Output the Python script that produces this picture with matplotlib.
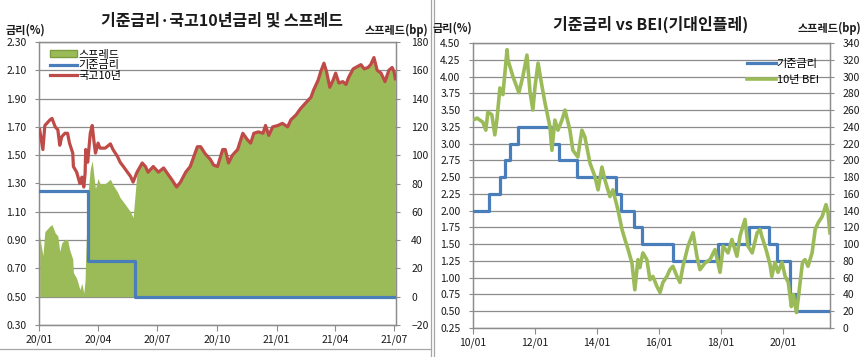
import matplotlib
matplotlib.use("Agg")
import matplotlib.pyplot as plt
import matplotlib.dates as mdates
import numpy as np
import pandas as pd
from matplotlib.patches import Patch
from matplotlib.lines import Line2D
from matplotlib.ticker import FormatStrFormatter

plt.rcParams['font.family'] = ['Noto Sans CJK KR', 'DejaVu Sans']

# ---------------- Left chart data ----------------
left_title = "기준금리·국고10년금리 및 스프레드"
kr10_dates = [
    "2020-01-02", "2020-01-07", "2020-01-10", "2020-01-18", "2020-01-21", "2020-01-26",
    "2020-01-30", "2020-02-02", "2020-02-05", "2020-02-10", "2020-02-14", "2020-02-17",
    "2020-02-22", "2020-02-23", "2020-02-28", "2020-03-04", "2020-03-07", "2020-03-10",
    "2020-03-12", "2020-03-13", "2020-03-16", "2020-03-20", "2020-03-23", "2020-03-26",
    "2020-03-28", "2020-04-01", "2020-04-04", "2020-04-12", "2020-04-20", "2020-04-24",
    "2020-05-01", "2020-05-05", "2020-05-10", "2020-05-21", "2020-05-25", "2020-05-31",
    "2020-06-08", "2020-06-13", "2020-06-17", "2020-06-25", "2020-07-03", "2020-07-11",
    "2020-07-17", "2020-07-24", "2020-07-31", "2020-08-06", "2020-08-14", "2020-08-21",
    "2020-09-01", "2020-09-06", "2020-09-13", "2020-09-21", "2020-09-26", "2020-10-02",
    "2020-10-10", "2020-10-14", "2020-10-19", "2020-10-25", "2020-11-02", "2020-11-10",
    "2020-11-17", "2020-11-22", "2020-11-27", "2020-12-04", "2020-12-11", "2020-12-15",
    "2020-12-20", "2020-12-26", "2021-01-03", "2021-01-10", "2021-01-18", "2021-01-23",
    "2021-01-31", "2021-02-07", "2021-02-15", "2021-02-23", "2021-02-27", "2021-03-06",
    "2021-03-10", "2021-03-15", "2021-03-19", "2021-03-24", "2021-03-29", "2021-04-02",
    "2021-04-07", "2021-04-13", "2021-04-18", "2021-04-22", "2021-04-29", "2021-05-03",
    "2021-05-11", "2021-05-16", "2021-05-22", "2021-05-26", "2021-05-31", "2021-06-05",
    "2021-06-11", "2021-06-17", "2021-06-23", "2021-06-28", "2021-07-01", "2021-07-03",
]
kr10_values = [
    1.68, 1.54, 1.71, 1.75, 1.76, 1.70,
    1.68, 1.57, 1.63, 1.655, 1.655, 1.585,
    1.515, 1.42, 1.38, 1.30, 1.345, 1.275,
    1.37, 1.54, 1.45, 1.655, 1.71, 1.585,
    1.515, 1.585, 1.55, 1.55, 1.58, 1.54,
    1.49, 1.45, 1.42, 1.35, 1.31, 1.38,
    1.445, 1.42, 1.38, 1.42, 1.38, 1.41,
    1.37, 1.325, 1.275, 1.31, 1.38, 1.42,
    1.56, 1.56, 1.51, 1.47, 1.43, 1.42,
    1.54, 1.54, 1.445, 1.50, 1.54, 1.655,
    1.61, 1.585, 1.655, 1.665, 1.655, 1.71,
    1.64, 1.70, 1.71, 1.725, 1.70, 1.75,
    1.785, 1.83, 1.87, 1.91, 1.96, 2.03,
    2.09, 2.15, 2.09, 1.98, 2.03, 2.08,
    2.01, 2.02, 2.00, 2.05, 2.11, 2.12,
    2.14, 2.11, 2.12, 2.14, 2.19, 2.10,
    2.08, 2.02, 2.10, 2.12, 2.09, 2.04,
]
base_l_dates = ["2020-01-01", "2020-03-16", "2020-05-28", "2021-07-04"]
base_l_values = [1.25, 0.75, 0.50, 0.50]
left_legend = ["스프레드", "기준금리", "국고10년"]

# ---------------- Right chart data ----------------
right_title = "기준금리 vs BEI(기대인플레)"
bei_dates = [
    "2010-01-04", "2010-02-17", "2010-04-26", "2010-06-01", "2010-06-25", "2010-08-11",
    "2010-09-15", "2010-10-09", "2010-11-14", "2010-12-19", "2011-02-06", "2011-02-16",
    "2011-04-16", "2011-06-25", "2011-08-11", "2011-09-28", "2011-11-03", "2011-12-07",
    "2012-01-01", "2012-02-06", "2012-03-10", "2012-04-27", "2012-06-25", "2012-07-18",
    "2012-08-22", "2012-09-27", "2012-11-13", "2012-12-19", "2013-02-15", "2013-03-22",
    "2013-05-19", "2013-07-06", "2013-08-10", "2013-10-09", "2013-12-06", "2014-01-12",
    "2014-02-27", "2014-04-03", "2014-06-01", "2014-07-06", "2014-09-04", "2014-10-21",
    "2014-11-25", "2015-01-01", "2015-02-15", "2015-03-21", "2015-04-27", "2015-05-19",
    "2015-06-24", "2015-08-10", "2015-09-15", "2015-10-20", "2015-12-06", "2016-01-12",
    "2016-02-15", "2016-04-02", "2016-05-07", "2016-06-12", "2016-07-29", "2016-09-03",
    "2016-10-08", "2016-12-06", "2017-02-04", "2017-03-21", "2017-04-26", "2017-06-25",
    "2017-08-22", "2017-10-20", "2017-12-18", "2018-01-24", "2018-03-22", "2018-05-07",
    "2018-07-05", "2018-08-10", "2018-10-08", "2018-11-13", "2019-01-01", "2019-02-28",
    "2019-04-03", "2019-04-26", "2019-06-13", "2019-07-29", "2019-08-20", "2019-09-26",
    "2019-11-01", "2019-12-18", "2020-01-24", "2020-03-01", "2020-04-06", "2020-04-30",
    "2020-06-05", "2020-06-29", "2020-08-15", "2020-09-14", "2020-10-19", "2020-12-06",
    "2021-01-12", "2021-02-16", "2021-04-03", "2021-05-19", "2021-06-12", "2021-07-04",
]
bei_values = [
    3.35, 3.38, 3.32, 3.20, 3.47, 3.43,
    3.13, 3.35, 3.83, 3.73, 4.40, 4.25,
    4.00, 3.76, 4.00, 4.32, 3.77, 3.50,
    3.85, 4.20, 3.95, 3.61, 3.25, 2.90,
    3.35, 3.20, 3.35, 3.50, 3.20, 2.90,
    2.80, 3.20, 3.10, 2.71, 2.51, 2.31,
    2.65, 2.46, 2.21, 2.31, 2.01, 1.72,
    1.57, 1.42, 1.22, 0.82, 1.27, 1.15,
    1.37, 1.27, 0.97, 1.02, 0.87, 0.78,
    0.93, 1.02, 1.12, 1.17, 1.02, 0.93,
    1.17, 1.47, 1.67, 1.32, 1.12, 1.22,
    1.27, 1.42, 1.08, 1.47, 1.37, 1.57,
    1.32, 1.62, 1.87, 1.47, 1.37, 1.67,
    1.72, 1.61, 1.42, 1.20, 1.02, 1.23,
    1.08, 1.23, 1.02, 0.93, 0.57, 0.75,
    0.48, 0.72, 1.23, 1.27, 1.17, 1.37,
    1.72, 1.82, 1.91, 2.09, 1.97, 1.67,
]
base_r_dates = [
    "2010-01-01", "2010-07-09", "2010-11-16", "2011-01-13", "2011-03-10", "2011-06-10",
    "2012-07-12", "2012-10-11", "2013-05-09", "2014-08-14", "2014-10-15", "2015-03-12",
    "2015-06-11", "2016-06-09", "2017-11-30", "2018-11-30", "2019-07-18", "2019-10-16",
    "2020-03-16", "2020-05-28", "2021-07-05",
]
base_r_values = [
    2.00, 2.25, 2.50, 2.75, 3.00, 3.25,
    3.00, 2.75, 2.50, 2.25, 2.00, 1.75,
    1.50, 1.25, 1.50, 1.75, 1.50, 1.25,
    0.75, 0.50, 0.50,
]
right_legend = ["기준금리", "10년 BEI"]

# ---------------- Styling ----------------
BLUE = '#4A7EBB'
RED = '#BE4B48'
GREEN = '#9BBB59'
GRID = '#8C8C8C'
TXT = '#1a1a1a'

W, H = 866, 357
fig = plt.figure(figsize=(W / 100, H / 100), dpi=100)
fig.patch.set_facecolor('white')


def rect(x0, y0, x1, y1):
    return [x0 / W, 1 - y1 / H, (x1 - x0) / W, (y1 - y0) / H]


def style_axes(ax):
    for s in ax.spines.values():
        s.set_color(GRID)
        s.set_linewidth(0.9)


# ---------------- Left chart ----------------
kr_dt = pd.to_datetime(kr10_dates)
kr_v = np.array(kr10_values)
bl_dt = pd.to_datetime(base_l_dates)
bl_v = np.array(base_l_values)
idx = np.searchsorted(bl_dt.values, kr_dt.values, side='right') - 1
spread_bp = (kr_v - bl_v[idx]) * 100.0

axL = fig.add_axes(rect(39, 42, 396, 325))
axL2 = axL.twinx()
axL.set_zorder(axL2.get_zorder() + 1)
axL.patch.set_visible(False)
axL2.patch.set_visible(True)
axL2.patch.set_facecolor('white')

axL2.set_ylim(-20, 180)
axL2.set_yticks(np.arange(-20, 181, 20))
axL2.set_axisbelow(True)
axL2.grid(axis='y', color=GRID, linewidth=0.9)
axL2.fill_between(kr_dt, 0, spread_bp, color=GREEN, linewidth=0, zorder=2)

axL.set_ylim(0.30, 2.30)
axL.set_yticks(np.arange(0.30, 2.31, 0.20))
axL.yaxis.set_major_formatter(FormatStrFormatter('%.2f'))
axL.step(bl_dt, bl_v, where='post', color=BLUE, linewidth=2.3, zorder=3)
axL.plot(kr_dt, kr_v, color=RED, linewidth=2.3, zorder=4)
axL.set_xlim(pd.Timestamp("2020-01-01"), pd.Timestamp("2021-07-04"))
axL.xaxis.set_major_locator(mdates.MonthLocator(bymonth=[1, 4, 7, 10]))
axL.xaxis.set_major_formatter(mdates.DateFormatter('%y/%m'))

for a in (axL, axL2):
    style_axes(a)
axL.tick_params(axis='x', length=4, color=GRID, labelsize=7.5, pad=3, labelcolor=TXT)
axL.tick_params(axis='y', length=3, color=GRID, labelsize=7.5, pad=6, labelcolor=TXT)
axL2.tick_params(axis='y', length=3, color=GRID, labelsize=7.5, pad=8, labelcolor=TXT)

handlesL = [
    Patch(facecolor=GREEN, edgecolor='#7E9E3E', linewidth=1.0),
    Line2D([], [], color=BLUE, linewidth=2.3),
    Line2D([], [], color=RED, linewidth=2.3),
]
legL = axL.legend(handlesL, left_legend, loc='upper left', bbox_to_anchor=(0.01, 1.0),
                  frameon=False, fontsize=8, handlelength=2.4, handleheight=0.6,
                  labelspacing=0.05, handletextpad=0.1, borderaxespad=0.3)

fig.text(222 / W, 1 - 20 / H, left_title, ha='center', va='center',
         fontsize=11.5, fontweight='bold', color=TXT)
fig.text(6 / W, 1 - 30 / H, "금리(%)", ha='left', va='center', fontsize=8,
         fontweight='bold', color=TXT)
fig.text(428 / W, 1 - 30 / H, "스프레드(bp)", ha='right', va='center', fontsize=8,
         fontweight='bold', color=TXT)

# ---------------- Right chart ----------------
axR = fig.add_axes(rect(473, 43, 830, 328))
axR2 = axR.twinx()
axR.set_zorder(axR2.get_zorder() + 1)
axR.patch.set_visible(False)

axR.set_ylim(0.25, 4.50)
axR.set_yticks(np.arange(0.25, 4.51, 0.25))
axR.yaxis.set_major_formatter(FormatStrFormatter('%.2f'))
axR.set_axisbelow(True)
axR.grid(axis='y', color=GRID, linewidth=0.9)
axR2.set_ylim(0, 340)
axR2.set_yticks(np.arange(0, 341, 20))

br_dt = pd.to_datetime(base_r_dates)
bei_dt = pd.to_datetime(bei_dates)
lb, = axR.step(br_dt, base_r_values, where='post', color=BLUE, linewidth=2.3, zorder=3)
lg, = axR.plot(bei_dt, bei_values, color=GREEN, linewidth=2.6, zorder=4)
axR.set_xlim(pd.Timestamp("2010-01-01"), pd.Timestamp("2021-07-05"))
axR.xaxis.set_major_locator(mdates.YearLocator(2, month=1, day=1))
axR.xaxis.set_major_formatter(mdates.DateFormatter('%y/%m'))

for a in (axR, axR2):
    style_axes(a)
axR.tick_params(axis='x', length=4, color=GRID, labelsize=7.5, pad=3, labelcolor=TXT)
axR.tick_params(axis='y', length=3, color=GRID, labelsize=7.5, pad=6, labelcolor=TXT)
axR2.tick_params(axis='y', length=3, color=GRID, labelsize=7.5, pad=6, labelcolor=TXT)

axR.legend([lb, lg], right_legend, loc='upper right', bbox_to_anchor=(0.99, 0.97),
           frameon=False, fontsize=8, handlelength=2.6, labelspacing=0.5,
           handletextpad=0.1, borderaxespad=0.3)

fig.text(651 / W, 1 - 24 / H, right_title, ha='center', va='center',
         fontsize=11.5, fontweight='bold', color=TXT)
fig.text(433 / W, 1 - 28 / H, "금리(%)", ha='left', va='center', fontsize=8,
         fontweight='bold', color=TXT)
fig.text(861 / W, 1 - 28 / H, "스프레드(bp)", ha='right', va='center', fontsize=8,
         fontweight='bold', color=TXT)

# ---------------- Panel borders ----------------
for xp in (431, 434):
    fig.add_artist(Line2D([xp / W, xp / W], [0, 1], color='#A6A6A6', linewidth=0.9))
fig.add_artist(Line2D([0, 431 / W], [1 - 349 / H, 1 - 349 / H], color='#A6A6A6', linewidth=0.9))

fig.savefig("out.png", dpi=100, facecolor='white')
